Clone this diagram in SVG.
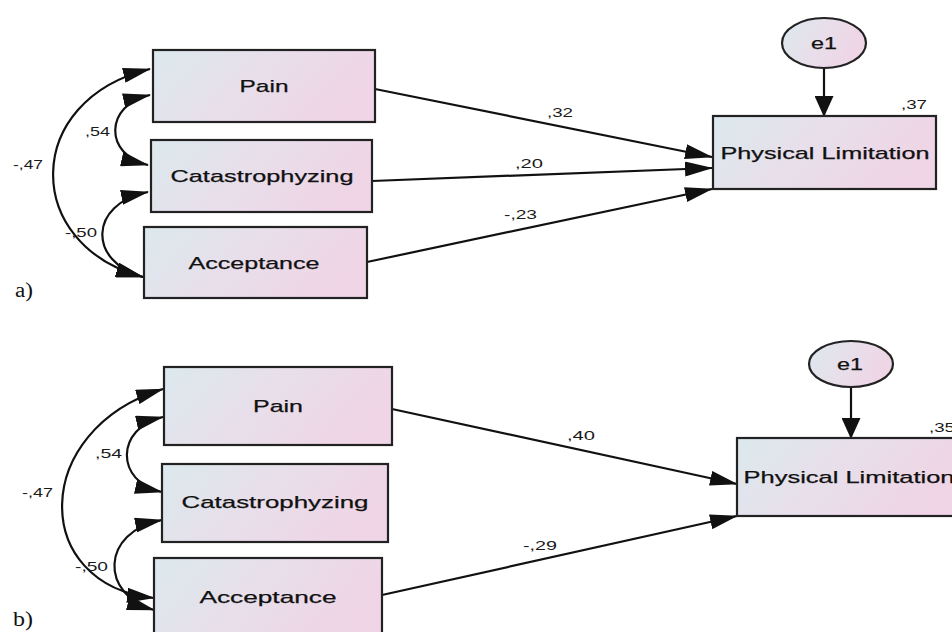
<svg xmlns="http://www.w3.org/2000/svg" width="952" height="632" viewBox="0 0 952 632">
<defs>
<linearGradient id="fillG" x1="0" y1="0" x2="1" y2="0.3">
<stop offset="0" stop-color="#dbe9ed"/>
<stop offset="0.5" stop-color="#e8dfeb"/>
<stop offset="1" stop-color="#efd5e6"/>
</linearGradient>
<marker id="arrH" markerUnits="userSpaceOnUse" markerWidth="28" markerHeight="15" refX="27" refY="7.5" orient="auto-start-reverse" viewBox="0 0 28 15">
<path d="M0,0 L28,7.5 L0,15 z" fill="#111"/>
</marker>
<marker id="arrV" markerUnits="userSpaceOnUse" markerWidth="21" markerHeight="19" refX="20" refY="9.5" orient="auto" viewBox="0 0 21 19">
<path d="M0,0 L21,9.5 L0,19 z" fill="#111"/>
</marker>
</defs>
<style>
.box{fill:url(#fillG);stroke:#222;stroke-width:2.2}
.ell{fill:url(#fillG);stroke:#222;stroke-width:2.2}
.lbl{font-family:"Liberation Sans",Arial,sans-serif;font-size:17px;fill:#111;text-anchor:middle;stroke:#111;stroke-width:0.25}
.num{font-family:"Liberation Sans",Arial,sans-serif;font-size:13.5px;fill:#1a1a1a}
.pan{font-family:"Liberation Serif","Times New Roman",serif;font-size:20px;fill:#111}
.ln{fill:none;stroke:#111;stroke-width:2.2}
.ah{marker-end:url(#arrH)}
.cv{marker-start:url(#arrH);marker-end:url(#arrH)}
.av{marker-end:url(#arrV)}
</style>
<rect width="952" height="632" fill="#ffffff"/>

<!-- Panel a -->
<g id="connectors-a">
<path class="ln ah" d="M375,89 L712,157"/>
<path class="ln ah" d="M372,181 L712,168"/>
<path class="ln ah" d="M367,262 L712,189"/>
<path class="ln av" d="M824,68 L824,116"/>
<path class="ln cv" d="M150,69 C22,100 22,245 143,277"/>
<path class="ln cv" d="M150,95 C104,105 104,155 148,165"/>
<path class="ln cv" d="M148,192 C88,204 88,262 143,277"/>
<text class="num" x="547" y="117" textLength="26" lengthAdjust="spacingAndGlyphs">,32</text>
<text class="num" x="515" y="168" textLength="28" lengthAdjust="spacingAndGlyphs">,20</text>
<text class="num" x="504" y="219" textLength="33" lengthAdjust="spacingAndGlyphs">-,23</text>
<text class="num" x="13" y="169" textLength="30" lengthAdjust="spacingAndGlyphs">-,47</text>
<text class="num" x="85" y="136" textLength="25" lengthAdjust="spacingAndGlyphs">,54</text>
<text class="num" x="65" y="237" textLength="32" lengthAdjust="spacingAndGlyphs">-,50</text>
</g>
<g id="a-pain">
<rect class="box" x="153" y="50" width="222" height="72"/>
<text class="lbl" x="264" y="92" textLength="49" lengthAdjust="spacingAndGlyphs">Pain</text>
</g>
<g id="a-catastrophyzing">
<rect class="box" x="151" y="140" width="221" height="72"/>
<text class="lbl" x="262" y="182" textLength="183" lengthAdjust="spacingAndGlyphs">Catastrophyzing</text>
</g>
<g id="a-acceptance">
<rect class="box" x="144" y="227" width="223" height="71"/>
<text class="lbl" x="254" y="269" textLength="131" lengthAdjust="spacingAndGlyphs">Acceptance</text>
</g>
<g id="a-physical-limitation">
<rect class="box" x="713" y="116" width="223" height="73"/>
<text class="lbl" x="825" y="159" textLength="209" lengthAdjust="spacingAndGlyphs">Physical Limitation</text>
<text class="num" x="901" y="109" textLength="26" lengthAdjust="spacingAndGlyphs">,37</text>
</g>
<g id="a-e1">
<ellipse class="ell" cx="824" cy="43" rx="42" ry="25"/>
<text class="lbl" x="824" y="49" textLength="26" lengthAdjust="spacingAndGlyphs">e1</text>
</g>
<text class="pan" x="15" y="297" textLength="18" lengthAdjust="spacingAndGlyphs">a)</text>

<!-- Panel b -->
<g id="connectors-b">
<path class="ln ah" d="M392,409 L737,484"/>
<path class="ln ah" d="M382,595 L737,516"/>
<path class="ln av" d="M851,387 L851,438"/>
<path class="ln cv" d="M163,389 C30,430 30,585 154,598"/>
<path class="ln cv" d="M163,417 C115,428 115,482 162,492"/>
<path class="ln cv" d="M162,520 C100,532 100,595 154,610"/>
<text class="num" x="567" y="440" textLength="28" lengthAdjust="spacingAndGlyphs">,40</text>
<text class="num" x="523" y="550" textLength="34" lengthAdjust="spacingAndGlyphs">-,29</text>
<text class="num" x="22" y="497" textLength="31" lengthAdjust="spacingAndGlyphs">-,47</text>
<text class="num" x="95" y="458" textLength="27" lengthAdjust="spacingAndGlyphs">,54</text>
<text class="num" x="75" y="571" textLength="33" lengthAdjust="spacingAndGlyphs">-,50</text>
</g>
<g id="b-pain">
<rect class="box" x="164" y="367" width="228" height="78"/>
<text class="lbl" x="278" y="412" textLength="50" lengthAdjust="spacingAndGlyphs">Pain</text>
</g>
<g id="b-catastrophyzing">
<rect class="box" x="162" y="464" width="226" height="78"/>
<text class="lbl" x="275" y="508" textLength="187" lengthAdjust="spacingAndGlyphs">Catastrophyzing</text>
</g>
<g id="b-acceptance">
<rect class="box" x="154" y="558" width="228" height="80"/>
<text class="lbl" x="268" y="603" textLength="137" lengthAdjust="spacingAndGlyphs">Acceptance</text>
</g>
<g id="b-physical-limitation">
<rect class="box" x="737" y="438" width="223" height="78"/>
<text class="lbl" x="849" y="483" textLength="211" lengthAdjust="spacingAndGlyphs">Physical Limitation</text>
<text class="num" x="929" y="432" textLength="26" lengthAdjust="spacingAndGlyphs">,35</text>
</g>
<g id="b-e1">
<ellipse class="ell" cx="851" cy="364" rx="42" ry="23"/>
<text class="lbl" x="850" y="370" textLength="26" lengthAdjust="spacingAndGlyphs">e1</text>
</g>
<text class="pan" x="13" y="626" textLength="20" lengthAdjust="spacingAndGlyphs">b)</text>
</svg>
